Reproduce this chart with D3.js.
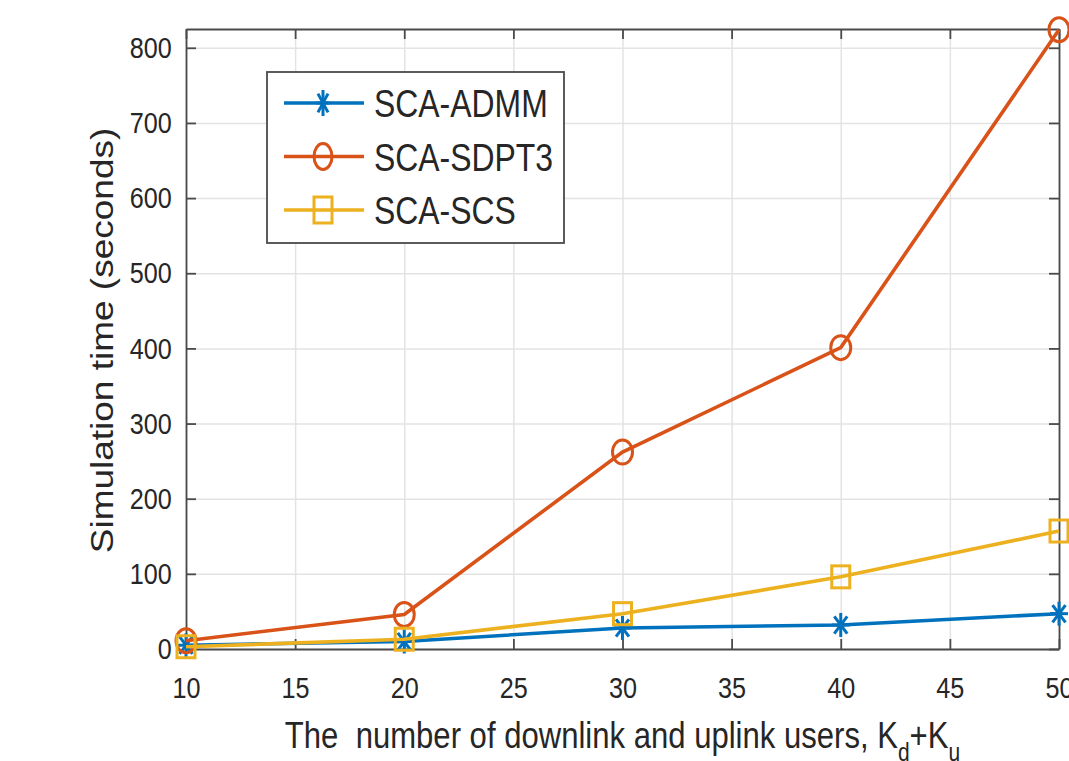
<!DOCTYPE html>
<html>
<head>
<meta charset="utf-8">
<script src="https://cdn.jsdelivr.net/npm/d3@7"></script>
<style>
  body { margin: 0; background: #fff; }
  svg { display: block; font-family: "Liberation Sans", Arial, Helvetica, sans-serif; }
</style>
</head>
<body>
<div id="d3-container"></div>
<script>
// data
const users = [10, 20, 30, 40, 50];
const admm = [5, 10, 28, 32, 47];
const sdpt3 = [11, 46, 262, 401, 824];
const scs = [3, 13, 47, 96, 157];
const seriesNames = ['SCA-ADMM', 'SCA-SDPT3', 'SCA-SCS'];
const seriesColors = ['#0072BD', '#D95319', '#EDB120'];
const seriesMarkers = ['asterisk', 'circle', 'square'];
const xTicks = [10, 15, 20, 25, 30, 35, 40, 45, 50];
const yTicks = [0, 100, 200, 300, 400, 500, 600, 700, 800];

const width = 1069;
const height = 761;
const margin = { top: 29, bottom: 112, left: 186, right: 10 };
const sx = 0.84; // the figure text is squeezed sideways
const ink = '#262626';

const series = seriesNames.map((name, i) => ({
    name: name,
    color: seriesColors[i],
    marker: seriesMarkers[i],
    values: [admm, sdpt3, scs][i].map((v, j) => ({ x: users[j], y: v }))
}));

const svg = d3.select('#d3-container')
    .append('svg')
    .attr('width', width)
    .attr('height', height);

const x = d3.scaleLinear()
    .domain([10, 50])
    .range([margin.left, width - margin.right]);

const y = d3.scaleLinear()
    .domain([0, 825])
    .range([height - margin.bottom, margin.top]);

const innerW = x(50) - x(10);
const innerH = y(0) - y(825);

// grid
svg.append('g')
    .attr('transform', `translate(0,${y(0)})`)
    .call(d3.axisBottom(x).tickValues(xTicks).tickSize(-innerH).tickFormat(''))
    .call(g => g.select('.domain').remove())
    .call(g => g.selectAll('line').attr('stroke', '#e3e3e3').attr('stroke-width', 1.5));
svg.append('g')
    .attr('transform', `translate(${x(10)},0)`)
    .call(d3.axisLeft(y).tickValues(yTicks).tickSize(-innerW).tickFormat(''))
    .call(g => g.select('.domain').remove())
    .call(g => g.selectAll('line').attr('stroke', '#e3e3e3').attr('stroke-width', 1.5));

function styleAxis(g) {
    g.select('.domain').attr('stroke', '#4a4a4a').attr('stroke-width', 1.8);
    g.selectAll('.tick line').attr('stroke', '#4a4a4a').attr('stroke-width', 1.8);
    g.selectAll('.tick text')
        .attr('fill', ink)
        .attr('font-size', 30)
        .attr('transform', `scale(${sx},1)`);
}

function xAxis(g) {
    g.attr('transform', `translate(0,${y(0)})`)
        .call(d3.axisBottom(x).tickValues(xTicks).tickSize(-10).tickSizeOuter(0).tickPadding(28))
        .call(styleAxis);
}
function yAxis(g) {
    g.attr('transform', `translate(${x(10)},0)`)
        .call(d3.axisLeft(y).tickValues(yTicks).tickSize(-10).tickSizeOuter(0).tickPadding(17))
        .call(styleAxis);
}
function topAxis(g) {
    g.attr('transform', `translate(0,${y(825)})`)
        .call(d3.axisTop(x).tickValues(xTicks).tickSize(-10).tickSizeOuter(0).tickFormat(''))
        .call(styleAxis);
}
function rightAxis(g) {
    g.attr('transform', `translate(${x(50)},0)`)
        .call(d3.axisRight(y).tickValues(yTicks).tickSize(-10).tickSizeOuter(0).tickFormat(''))
        .call(styleAxis);
}
svg.append('g').call(topAxis);
svg.append('g').call(rightAxis);
svg.append('g').call(xAxis);
svg.append('g').call(yAxis);

// axis titles
const xTitle = svg.append('text')
    .attr('transform', `translate(${(x(10) + x(50)) / 2},748) scale(${sx},1)`)
    .attr('text-anchor', 'middle')
    .attr('font-size', 37)
    .attr('fill', ink)
    .attr('xml:space', 'preserve');
xTitle.append('tspan').text('The  number of downlink and uplink users, K');
xTitle.append('tspan').attr('font-size', 25).attr('dy', 13).text('d');
xTitle.append('tspan').attr('dy', -13).text('+K');
xTitle.append('tspan').attr('font-size', 25).attr('dy', 13).text('u');

svg.append('text')
    .attr('transform', `translate(113,${(128 + 553) / 2}) rotate(-90) scale(1,${sx})`)
    .attr('text-anchor', 'middle')
    .attr('font-size', 37)
    .attr('fill', ink)
    .text('Simulation time (seconds)');

// markers
function drawMarker(g, type, color, cx, cy, rx, ry) {
    if (type === 'circle') {
        g.append('ellipse')
            .attr('cx', cx).attr('cy', cy).attr('rx', rx).attr('ry', ry)
            .attr('fill', 'none').attr('stroke', color).attr('stroke-width', 3);
    } else if (type === 'square') {
        g.append('rect')
            .attr('x', cx - rx).attr('y', cy - ry).attr('width', 2 * rx).attr('height', 2 * ry)
            .attr('fill', 'none').attr('stroke', color).attr('stroke-width', 3);
    } else {
        const dx = rx * 0.72, dy = ry * 0.72;
        const segs = [[0, -ry, 0, ry], [-rx, 0, rx, 0], [-dx, -dy, dx, dy], [-dx, dy, dx, -dy]];
        segs.forEach(s => g.append('line')
            .attr('x1', cx + s[0]).attr('y1', cy + s[1])
            .attr('x2', cx + s[2]).attr('y2', cy + s[3])
            .attr('stroke', color).attr('stroke-width', 3));
    }
}
const markerSize = { circle: [10, 12], square: [9, 11], asterisk: [9, 12] };

const line = d3.line().x(d => x(d.x)).y(d => y(d.y));

series.forEach(s => {
    const g = svg.append('g');
    g.append('path')
        .datum(s.values)
        .attr('d', line)
        .attr('fill', 'none')
        .attr('stroke', s.color)
        .attr('stroke-width', 3.6);
    s.values.forEach(d => drawMarker(g, s.marker, s.color, x(d.x), y(d.y),
        markerSize[s.marker][0], markerSize[s.marker][1]));
});

// legend
const legend = svg.append('g');
legend.append('rect')
    .attr('x', 267).attr('y', 72).attr('width', 297).attr('height', 171)
    .attr('fill', '#fff').attr('stroke', '#4a4a4a').attr('stroke-width', 1.8);
series.forEach((s, i) => {
    const cy = 103 + i * 53.5;
    legend.append('line')
        .attr('x1', 284).attr('x2', 364).attr('y1', cy).attr('y2', cy)
        .attr('stroke', s.color).attr('stroke-width', 3.6);
    drawMarker(legend, s.marker, s.color, 323, cy, s.marker === 'asterisk' ? 7 : 9, 13);
    legend.append('text')
        .attr('transform', `translate(374,${cy + 14}) scale(${sx},1)`)
        .attr('font-size', 38)
        .attr('fill', ink)
        .text(s.name);
});
</script>
</body>
</html>
